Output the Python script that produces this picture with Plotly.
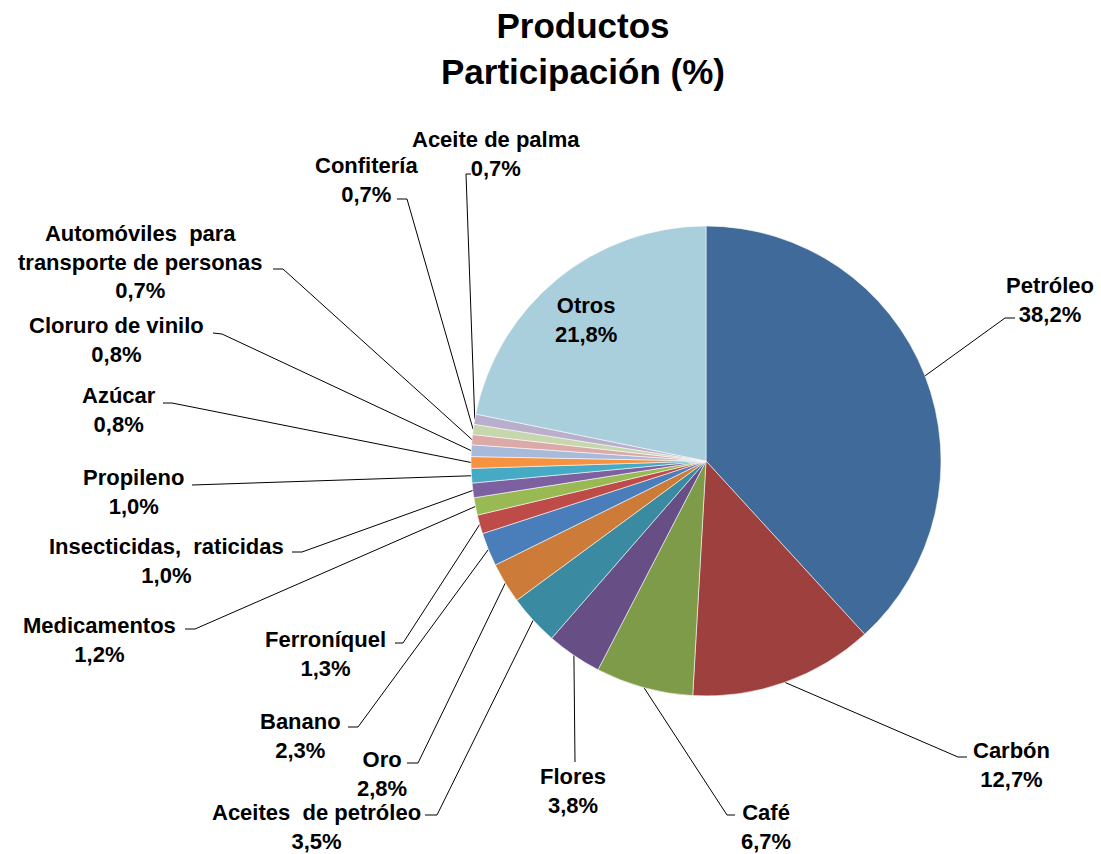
import math
import plotly.graph_objects as go

# ---------------- data ----------------
categories = ["Petróleo", "Carbón", "Café", "Flores", "Aceites de petróleo", "Oro",
              "Banano", "Ferroníquel", "Medicamentos", "Insecticidas, raticidas",
              "Propileno", "Azúcar", "Cloruro de vinilo",
              "Automóviles para transporte de personas", "Confitería",
              "Aceite de palma", "Otros"]
values = [38.2, 12.7, 6.7, 3.8, 3.5, 2.8, 2.3, 1.3, 1.2, 1.0, 1.0, 0.8, 0.8, 0.7, 0.7, 0.7, 21.8]
label_names = ["Petróleo", "Carbón", "Café", "Flores", "Aceites  de petróleo", "Oro",
               "Banano", "Ferroníquel", "Medicamentos", "Insecticidas,  raticidas",
               "Propileno", "Azúcar", "Cloruro de vinilo",
               "Automóviles  para<br>transporte de personas", "Confitería",
               "Aceite de palma", "Otros"]

colors = ["#3F6A9A", "#9D403E", "#7E9B49", "#674F85", "#3A8BA2", "#CD7B38",
          "#4A7EBB", "#BE4B48", "#98B954", "#7D60A0", "#46AAC5", "#F69240",
          "#A8BADA", "#DBA9A8", "#C6D7AE", "#B9AECB", "#A9CEDC"]

# ---------------- layout / style ----------------
W, H = 1101, 854
CX, CY, R = 706, 461, 235          # pie centre and radius in pixels

# label centre, connector elbow and connector end (pixels); None = inside label
label_pos = [(1050, 300), (1011, 765), (766, 827), (573, 791), (316, 827), (382, 774),
             (300, 736), (325, 654), (99, 640), (166, 561), (133, 492), (119, 410),
             (116, 340), (140, 262), (366, 180), (496, 154), (586, 320)]
elbows = [(1005, 318), (958, 757), (727, 815), (575, 762), (437, 815), (418, 763),
          (358, 727), (403, 643), (195, 629), (302, 552), (200, 485), (172, 403),
          (222, 334), (283, 269), (407, 199), (466, 174), None]
ends = [(1015, 318), (967, 757), (735, 815), (575, 762), (425, 815), (407, 763),
        (348, 727), (395, 643), (185, 629), (292, 552), (192, 485), (163, 403),
        (213, 333), (273, 269), (397, 199), (471, 174), None]

FONT = "Liberation Sans, Arial, sans-serif"
LABEL_SIZE = 22

fig = go.Figure()

fig.add_trace(go.Pie(
    labels=categories, values=values, sort=False, direction="clockwise", rotation=0,
    marker=dict(colors=colors, line=dict(color="rgba(255,255,255,0.7)", width=0.8)),
    textinfo="none", hoverinfo="label+percent", showlegend=False,
    domain=dict(x=[(CX - R) / W, (CX + R) / W], y=[1 - (CY + R) / H, 1 - (CY - R) / H]),
))

# leader lines computed from the data (slice mid-angle on the rim)
total = sum(values)
cum = 0.0
lx, ly = [], []
for v, el, en in zip(values, elbows, ends):
    theta = 2 * math.pi * (cum + v / 2) / total
    cum += v
    if el is None:
        continue
    sx = CX + R * math.sin(theta)
    sy = CY - R * math.cos(theta)
    lx += [sx, el[0], en[0], None]
    ly += [sy, el[1], en[1], None]

fig.add_trace(go.Scatter(x=lx, y=ly, mode="lines", line=dict(color="black", width=1),
                         hoverinfo="skip", showlegend=False))

annotations = []
for name, v, pos in zip(label_names, values, label_pos):
    txt = "<b>%s<br>%s%%</b>" % (name, ("%.1f" % v).replace(".", ","))
    annotations.append(dict(x=pos[0], y=pos[1], xref="x", yref="y", text=txt,
                            showarrow=False, xanchor="center", yanchor="middle",
                            align="center", font=dict(family=FONT, size=LABEL_SIZE, color="black")))

fig.update_layout(
    width=W, height=H, margin=dict(l=0, r=0, t=0, b=0),
    paper_bgcolor="white", plot_bgcolor="rgba(0,0,0,0)",
    title=dict(text="<b>Productos<br>Participación (%)</b>", x=583 / W, y=1 - 38 / H,
               xanchor="center", yanchor="middle",
               font=dict(family=FONT, size=35, color="black")),
    xaxis=dict(range=[0, W], visible=False, fixedrange=True, domain=[0, 1]),
    yaxis=dict(range=[H, 0], visible=False, fixedrange=True, domain=[0, 1]),
    annotations=annotations,
)

fig.write_html("out.html", config={"displayModeBar": False},
               post_script="document.body.style.margin='0';document.body.style.overflow='hidden';")
